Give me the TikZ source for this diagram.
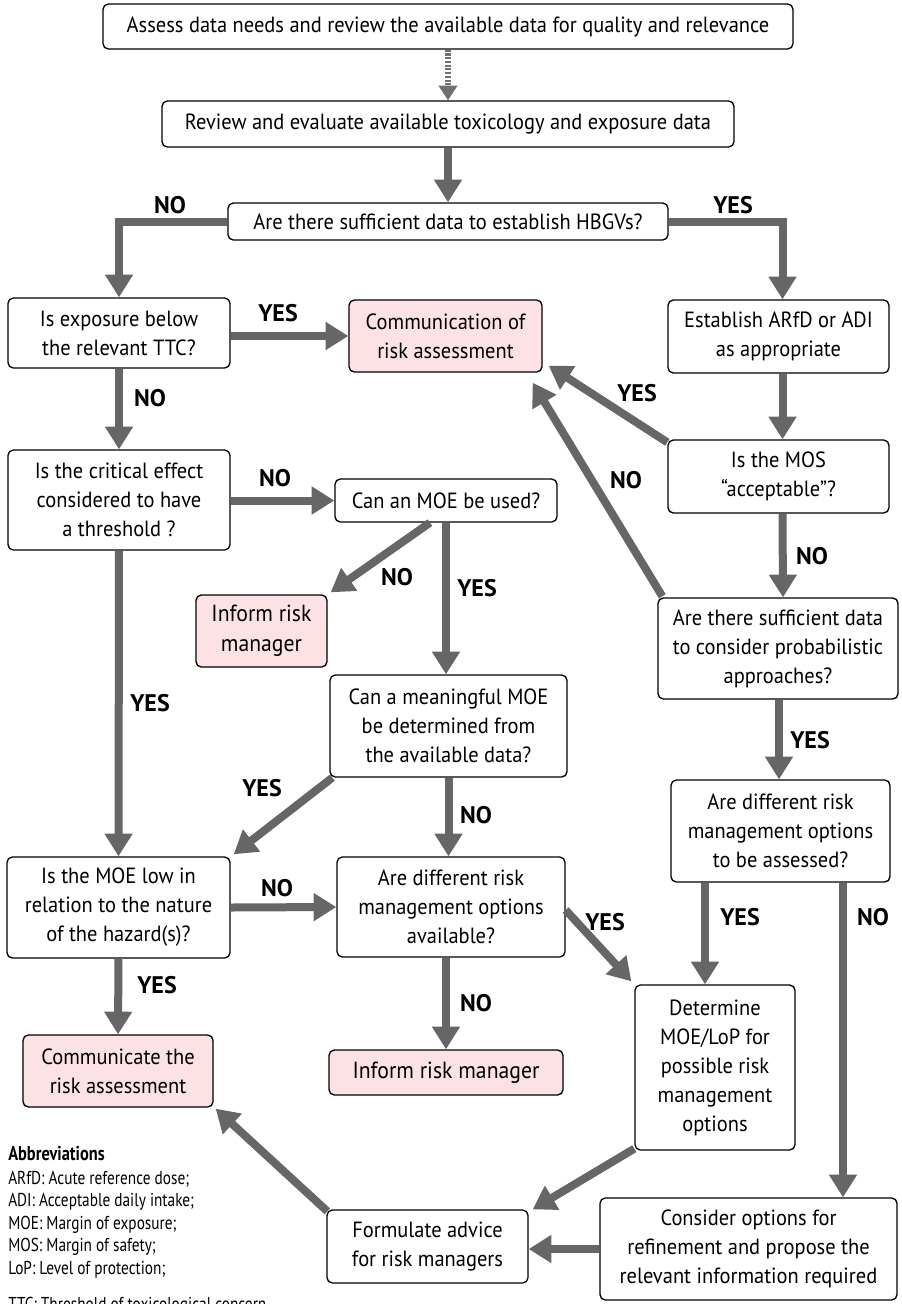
\documentclass[tikz,border=0pt]{standalone}
\usepackage{fontspec}
\setmainfont{PT Sans}[FakeStretch=0.93]
\newfontfamily\lblfont{PT Sans}
\newfontfamily\condfont[FakeStretch=0.82]{PT Sans}
\usetikzlibrary{arrows.meta,calc}
\definecolor{arrowgray}{RGB}{102,102,102}
\definecolor{dotgray}{RGB}{112,112,112}
\definecolor{pinkfill}{RGB}{252,225,229}
\begin{document}
\begin{tikzpicture}[x=0.75pt,y=-0.75pt,
  box/.style={draw=black, line width=1pt, rounded corners=4pt, align=center, inner sep=0pt, fill=white, font=\fontsize{16.5}{21.75}\selectfont},
  pinkbox/.style={box, fill=pinkfill},
  sz/.style 2 args={minimum width=#1*0.75pt, minimum height=#2*0.75pt},
  arr/.style={draw=arrowgray, line width=6pt, -{Triangle[length=17pt,width=20pt]}},
  dotarr/.style={draw=dotgray, line width=3.8pt, dash pattern=on 1.6pt off 1.2pt, -{Triangle[length=11pt,width=13.5pt]}},
  lbl/.style={font=\lblfont\bfseries\fontsize{18}{20}\selectfont, inner sep=0pt},
  abbr/.style={anchor=base west, inner sep=0pt, font=\condfont\fontsize{14}{16}\selectfont}
]
\useasboundingbox (0,0) rectangle (902,1304);
\fill[white] (0,0) rectangle (902,1304);

% boxes
\node[box, sz={690}{45}] (B1) at (448,26.5) {Assess data needs and review the available data for quality and relevance};
\node[box, sz={572}{46}] (B2) at (448,124) {Review and evaluate available toxicology and exposure data};
\node[box, sz={440}{37}] (B3) at (448,221.5) {Are there sufficient data to establish HBGVs?};
\node[box, sz={222}{70}] (B4) at (119,333) {Is exposure below\\the relevant TTC?};
\node[pinkbox, sz={193}{72}] (B7) at (445.5,336) {Communication of\\risk assessment};
\node[box, sz={221}{73}] (B8) at (778.5,336.5) {Establish ARfD or ADI\\as appropriate};
\node[box, sz={222}{100}] (B9) at (119,500) {Is the critical effect\\considered to have\\a threshold ?};
\node[box, sz={222}{43}] (B10) at (446,500.5) {Can an MOE be used?};
\node[box, sz={221}{73}] (B11) at (778.5,476.5) {Is the MOS\\“acceptable”?};
\node[pinkbox, sz={131}{72}, font=\fontsize{17.5}{22.5}\selectfont] (B12) at (261.5,631) {Inform risk\\manager};
\node[box, sz={240}{101}] (B13) at (778,648.5) {Are there sufficient data\\to consider probabilistic\\approaches?};
\node[box, sz={237}{102}] (B14) at (448.5,726) {Can a meaningful MOE\\be determined from\\the available data?};
\node[box, sz={223}{101}] (B15) at (118.5,907.5) {Is the MOE low in\\relation to the nature\\of the hazard(s)?};
\node[box, sz={228}{100}] (B16) at (451,907) {Are different risk\\management options\\available?};
\node[box, sz={219}{102}] (B17) at (780.5,831) {Are different risk\\management options\\to be assessed?};
\node[pinkbox, sz={190}{72}] (B18) at (118,1071) {Communicate the\\risk assessment};
\node[pinkbox, sz={234}{45}, font=\fontsize{17.5}{22.5}\selectfont] (B19) at (446,1072.5) {Inform risk manager};
\node[box, sz={160}{165}] (B20) at (715,1067.5) {Determine\\MOE/LoP for\\possible risk\\management\\options};
\node[box, sz={201}{73}] (B21) at (427.5,1246.5) {Formulate advice\\for risk managers};
\node[box, sz={297}{102}] (B22) at (748.5,1249) {Consider options for\\refinement and propose the\\relevant information required};

% connectors
\draw[dotarr] (B1.south) -- (B2.north);
\draw[arr] (B2.south) -- (B3.north);
\draw[arr] (B3.west) -| (B4.north);
\draw[arr] (B3.east) -| ($(B8.north)+(4,0)$);
\draw[arr] (B4.east|-B7.west) -- (B7.west);
\draw[arr] (B4.south) -- (B9.north);
\draw[arr] (B9.east|-B10.west) -- (B10.west);
\draw[arr] ($(B10.south)+(-16,0)$) -- ($(B12.north east)+(3,-2)$);
\draw[arr] (B10.south) -- (B10.south|-B14.north);
\draw[arr] ($(B11.north west)+(0,3)$) -- ($(B7.south east)+(6,-7)$);
\draw[arr] ($(B13.north west)+(5,-1)$) -- ($(B7.south east)+(-10,10)$);
\draw[arr] ($(B8.south)+(4,0)$) -- ($(B11.north)+(4,0)$);
\draw[arr] ($(B11.south)+(4,0)$) -- ($(B13.north)+(5,0)$);
\draw[arr] ($(B13.south)+(1,0)$) -- ($(B17.north)+(-1.5,0)$);
\draw[arr] (B9.south) -- (B15.north);
\draw[arr] ($(B14.south west)+(3,0)$) -- ($(B15.north east)+(3,-2)$);
\draw[arr] (B14.south) -- (B14.south|-B16.north);
\draw[arr] (B15.east) -- (B16.west);
\draw[arr] (B15.south) -- (B18.north);
\draw[arr] (B16.south-|B19.north) -- (B19.north);
\draw[arr] ($(B16.east)+(0,3)$) -- ($(B20.north west)+(-3,-3)$);
\draw[arr] ($(B17.south)+(-75.5,0)$) -- ($(B20.north)+(-10,0)$);
\draw[arr] ($(B17.south)+(62.5,0)$) -- ($(B22.north)+(94.5,0)$);
\draw[arr] ($(B20.south west)+(0,-2)$) -- ($(B21.north east)+(4,0)$);
\draw[arr] (B22.west) -- (B22.west-|B21.east);
\draw[arr] ($(B21.north west)+(1,2)$) -- ($(B18.south east)+(2,1)$);

% labels
\node[lbl] (L1) at (170,205) {NO};
\node[lbl] (L2) at (733,205) {YES};
\node[lbl] (L3) at (278,313) {YES};
\node[lbl] (L4) at (150,398) {NO};
\node[lbl] (L5) at (275,478) {NO};
\node[lbl] (L6) at (397,577) {NO};
\node[lbl] (L7) at (477,588) {YES};
\node[lbl] (L8) at (637,393) {YES};
\node[lbl] (L9) at (626,480) {NO};
\node[lbl] (L10) at (812,556) {NO};
\node[lbl] (L11) at (810,740) {YES};
\node[lbl] (L12) at (150,703) {YES};
\node[lbl] (L13) at (262,788) {YES};
\node[lbl] (L14) at (476,815) {NO};
\node[lbl] (L15) at (277,888) {NO};
\node[lbl] (L16) at (157,985) {YES};
\node[lbl] (L17) at (476,1003) {NO};
\node[lbl] (L18) at (605,922) {YES};
\node[lbl] (L19) at (740,917) {YES};
\node[lbl] (L20) at (873,917) {NO};

% abbreviations
\node[abbr, font=\condfont\bfseries\fontsize{15}{17}\selectfont] (A0) at (8,1160) {Abbreviations};
\node[abbr] (A1) at (8,1184) {ARfD: Acute reference dose;};
\node[abbr] (A2) at (8,1206.5) {ADI: Acceptable daily intake;};
\node[abbr] (A3) at (8,1229) {MOE: Margin of exposure;};
\node[abbr] (A4) at (8,1251.5) {MOS: Margin of safety;};
\node[abbr] (A5) at (8,1274) {LoP: Level of protection;};
\node[abbr] (A6) at (8,1310) {TTC: Threshold of toxicological concern};
\end{tikzpicture}
\end{document}
